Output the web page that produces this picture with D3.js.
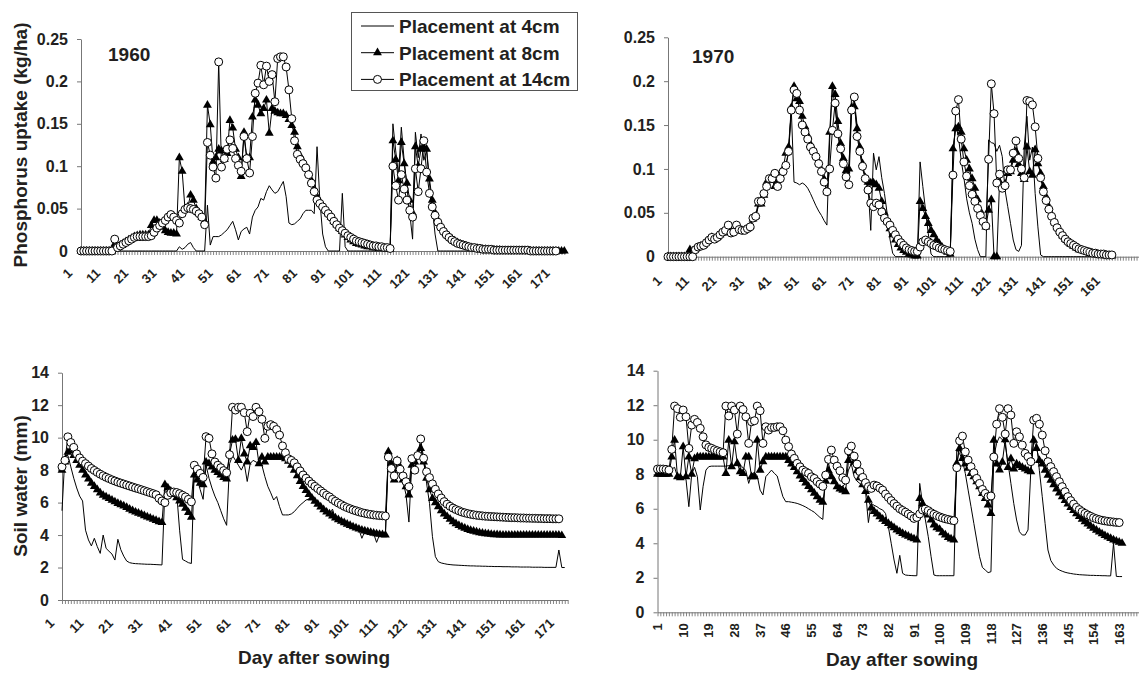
<!DOCTYPE html>
<html>
<head>
<meta charset="UTF-8">
<script src="https://cdn.jsdelivr.net/npm/d3@7"></script>
<style>
  body { margin: 0; background: #fff; }
  svg { display: block; }
</style>
</head>
<body>
<svg id="chart" width="1139" height="673"></svg>
<script>
// ---- data: one value per day after sowing ----
var seriesNames = ["Placement at 4cm", "Placement at 8cm", "Placement at 14cm"];

// 1960, phosphorus uptake (kg/ha)
var p60_4 = [
  0,0,0,0,0,0,0,0,0,0,
  0,0,0,0,0,0,0,0,0,0,
  0,0,0,0,0,0,0,0,0,0,
  0,0,0,0,0,0.005,0.002,0.004,0.008,0.01,
  0.004,0,0,0,0,0.054,0.007,0.017,0.017,0.017,
  0.019,0.022,0.025,0.03,0.035,0.025,0.013,0.023,0.026,0.028,
  0.02,0.04,0.048,0.052,0.062,0.06,0.07,0.077,0.072,0.068,
  0.07,0.076,0.082,0.064,0.033,0.031,0.032,0.035,0.038,0.044,
  0.048,0.048,0.048,0.044,0.123,0.06,0.02,0.005,0,0,
  0,0,0,0.068,0.005,0,0,0,0,0,
  0,0,0,0,0,0,0,0,0,0,
  0,0.15,0.118,0.09,0.146,0.107,0.075,0.044,0.014,0.14,
  0.11,0.138,0.107,0.118,0.08,0.052,0.02,0,0,0,
  0,0,0,0,0,0,0,0,0,0,
  0,0,0,0,0,0,0,0,0,0,
  0,0,0,0,0,0,0,0,0,0,
  0,0,0,0,0,0,0,0,0,0,
  0,0,0
];
var p60_8 = [
  0,0,0,0,0,0,0,0,0,0,
  0,0,0.008,0.005,0.007,0.009,0.011,0.013,0.015,0.017,
  0.018,0.019,0.019,0.019,0.019,0.03,0.036,0.036,0.033,0.028,
  0.024,0.022,0.021,0.021,0.02,0.11,0.094,0.05,0.052,0.066,
  0.06,0.05,0.045,0.04,0.035,0.172,0.149,0.105,0.11,0.12,
  0.118,0.108,0.115,0.154,0.145,0.12,0.11,0.088,0.14,0.11,
  0.11,0.158,0.178,0.172,0.162,0.168,0.178,0.139,0.168,0.165,
  0.163,0.162,0.162,0.16,0.155,0.148,0.14,0.123,0.112,0.105,
  0.099,0.092,0.083,0.073,0.064,0.058,0.053,0.048,0.044,0.04,
  0.035,0.031,0.027,0.023,0.019,0.016,0.013,0.011,0.009,0.008,
  0.007,0.006,0.005,0.005,0.004,0.004,0.003,0.003,0.003,0.002,
  0.002,0.13,0.108,0.083,0.128,0.103,0.08,0.06,0.045,0.123,
  0.1,0.12,0.122,0.12,0.085,0.06,0.045,0.036,0.03,0.025,
  0.02,0.017,0.014,0.012,0.01,0.008,0.007,0.006,0.005,0.004,
  0.003,0.003,0.002,0.002,0.002,0.001,0.001,0.001,0.001,0.001,
  0,0,0,0,0,0,0,0,0,0,
  0,0,0,0,0,0,0,0,0,0,
  0,0,0
];
var p60_14 = [
  0,0,0,0,0,0,0,0,0,0,
  0,0,0.014,0.004,0.006,0.008,0.01,0.012,0.014,0.016,
  0.017,0.017,0.017,0.017,0.017,0.018,0.022,0.027,0.03,0.033,
  0.036,0.04,0.043,0.04,0.036,0.033,0.044,0.049,0.051,0.05,
  0.049,0.047,0.044,0.04,0.031,0.128,0.113,0.099,0.086,0.223,
  0.099,0.109,0.12,0.131,0.121,0.109,0.101,0.094,0.135,0.109,
  0.092,0.135,0.186,0.198,0.219,0.196,0.218,0.2,0.208,0.176,
  0.227,0.229,0.229,0.217,0.19,0.156,0.13,0.114,0.108,0.103,
  0.098,0.09,0.08,0.07,0.06,0.056,0.052,0.048,0.044,0.04,
  0.035,0.031,0.027,0.024,0.021,0.018,0.016,0.014,0.012,0.011,
  0.01,0.009,0.008,0.007,0.006,0.006,0.005,0.005,0.004,0.004,
  0.003,0.1,0.077,0.06,0.09,0.073,0.06,0.048,0.04,0.097,
  0.07,0.097,0.13,0.093,0.068,0.052,0.042,0.034,0.028,0.023,
  0.019,0.016,0.013,0.011,0.009,0.008,0.007,0.006,0.005,0.004,
  0.004,0.003,0.003,0.002,0.002,0.002,0.002,0.001,0.001,0.001,
  0.001,0.001,0.001,0.001,0.001,0.001,0.001,0.001,0.001,0.001,
  0,0,0,0,0,0,0,0,0,0
];

// 1970, phosphorus uptake (kg/ha)
var p70_4 = [
  0,0,0,0,0,0,0,0,0,0,
  0.006,0.009,0.01,0.012,0.015,0.018,0.02,0.019,0.021,0.024,
  0.026,0.028,0.033,0.027,0.028,0.033,0.03,0.029,0.029,0.031,
  0.034,0.042,0.045,0.058,0.058,0.068,0.082,0.085,0.09,0.078,
  0.085,0.093,0.098,0.104,0.118,0.167,0.085,0.084,0.082,0.084,
  0.082,0.078,0.072,0.065,0.058,0.052,0.047,0.041,0.036,0.133,
  0.194,0.17,0.14,0.12,0.105,0.098,0.095,0.184,0.178,0.15,
  0.12,0.1,0.09,0.08,0.03,0.118,0.099,0.114,0.09,0.072,
  0.049,0.02,0.004,0,0,0,0,0,0,0,
  0,0,0.108,0.08,0.053,0.026,0.003,0,0,0,
  0,0,0,0,0.12,0.15,0.137,0.11,0.09,0.066,
  0.05,0.038,0.02,0.008,0,0,0,0.133,0.13,0.129,
  0.12,0.127,0.114,0.076,0.057,0.038,0.019,0.008,0.006,0.013,
  0.125,0.16,0.11,0.125,0.072,0.034,0.002,0,0,0,
  0,0,0,0,0,0,0,0,0,0,
  0,0,0,0,0,0,0,0,0,0,
  0,0,0
];
var p70_8 = [
  0,0,0,0,0,0,0,0,0.008,0.006,
  0.009,0.011,0.012,0.013,0.017,0.02,0.022,0.02,0.022,0.025,
  0.027,0.029,0.034,0.028,0.029,0.034,0.031,0.03,0.03,0.032,
  0.035,0.043,0.046,0.06,0.06,0.07,0.085,0.087,0.092,0.08,
  0.087,0.095,0.1,0.118,0.125,0.17,0.194,0.18,0.177,0.16,
  0.148,0.138,0.128,0.122,0.116,0.108,0.099,0.088,0.074,0.142,
  0.194,0.185,0.154,0.129,0.112,0.098,0.1,0.17,0.171,0.146,
  0.125,0.106,0.09,0.085,0.084,0.084,0.082,0.078,0.063,0.05,
  0.04,0.032,0.025,0.019,0.014,0.01,0.007,0.005,0.003,0.002,
  0.001,0.001,0.063,0.055,0.046,0.038,0.03,0.025,0.019,0.015,
  0.011,0.008,0.005,0.003,0.123,0.146,0.148,0.142,0.123,0.11,
  0.1,0.089,0.078,0.065,0.052,0.04,0.034,0.053,0.065,0,
  0,0.085,0.08,0.083,0.095,0.097,0.11,0.12,0.105,0.095,
  0.088,0.125,0.097,0.093,0.122,0.106,0.095,0.08,0.068,0.057,
  0.048,0.04,0.034,0.029,0.024,0.02,0.017,0.014,0.012,0.01,
  0.008,0.007,0.006,0.005,0.004,0.003,0.003,0.002,0.002,0.002,
  0.001,0.001,0.001
];
var p70_14 = [
  0,0,0,0,0,0,0,0,0,0,
  0.008,0.011,0.012,0.013,0.016,0.019,0.022,0.02,0.022,0.025,
  0.028,0.03,0.036,0.027,0.028,0.036,0.031,0.03,0.03,0.032,
  0.034,0.044,0.046,0.063,0.063,0.072,0.08,0.089,0.089,0.095,
  0.08,0.089,0.097,0.104,0.12,0.167,0.19,0.186,0.167,0.15,
  0.142,0.134,0.125,0.12,0.114,0.106,0.097,0.085,0.074,0.1,
  0.144,0.175,0.14,0.123,0.106,0.091,0.082,0.167,0.182,0.137,
  0.12,0.103,0.089,0.076,0.061,0.057,0.061,0.059,0.051,0.044,
  0.04,0.036,0.03,0.025,0.02,0.016,0.013,0.01,0.008,0.007,
  0.006,0.006,0.011,0.017,0.019,0.017,0.015,0.013,0.012,0.01,
  0.009,0.008,0.007,0.006,0.093,0.166,0.179,0.134,0.108,0.092,
  0.081,0.071,0.063,0.055,0.047,0.04,0.035,0.111,0.197,0.163,
  0.084,0.094,0.078,0.081,0.099,0.099,0.118,0.132,0.112,0.1,
  0.09,0.178,0.177,0.173,0.148,0.112,0.09,0.074,0.064,0.054,
  0.046,0.039,0.033,0.028,0.024,0.02,0.017,0.015,0.013,0.011,
  0.009,0.008,0.007,0.006,0.005,0.004,0.004,0.003,0.003,0.003,
  0.002,0.002,0.002
];

// 1960, soil water (mm)
var w60_4 = [
  5.5,8.9,8.9,8.2,7.5,6.9,6.4,6.1,4.3,3.7,
  3.33,3.8,3.29,2.87,4.0,3.18,3.0,2.83,2.46,3.74,
  3.1,2.7,2.4,2.3,2.26,2.24,2.23,2.22,2.21,2.2,
  2.2,2.19,2.18,2.17,2.16,6.8,7.0,6.9,6.8,6.6,
  4.3,2.5,2.4,2.3,2.25,8.2,7.5,6.8,6.2,8.3,
  7.5,6.9,6.4,6.0,5.5,5.0,4.6,8.4,8.9,8.6,
  8.3,8.0,8.4,7.3,8.4,8.6,8.5,8.4,8.3,7.6,
  7.0,6.6,6.16,6.37,5.75,5.24,5.24,5.24,5.3,5.44,
  5.65,5.85,6.0,6.16,6.22,6.2,6.02,5.85,5.68,5.52,
  5.38,5.25,5.6,5.02,4.92,4.82,4.73,4.64,4.56,4.48,
  4.41,4.34,3.8,4.23,4.18,4.13,4.09,3.55,4.02,3.99,
  3.98,8.8,8.0,7.5,8.3,7.7,7.3,6.5,4.8,8.5,
  8.0,9.0,9.4,8.7,7.2,5.95,3.9,2.67,2.36,2.28,
  2.24,2.2,2.18,2.16,2.15,2.14,2.13,2.12,2.11,2.1,
  2.1,2.09,2.09,2.08,2.08,2.07,2.07,2.06,2.06,2.06,
  2.05,2.05,2.05,2.04,2.04,2.04,2.03,2.03,2.03,2.03,
  2.02,2.02,2.02,2.02,2.01,2.01,2.01,2.01,2.01,3.08,
  2.0,2.0
];
var w60_8 = [
  8.0,8.5,9.1,9.2,8.9,8.6,8.3,8.0,7.7,7.45,
  7.2,7.0,6.8,6.6,6.45,6.35,6.25,6.15,6.05,5.95,
  5.87,5.8,5.7,5.6,5.5,5.42,5.35,5.28,5.2,5.12,
  5.05,4.97,4.9,4.83,4.77,7.1,6.9,6.7,6.5,6.3,
  6.1,5.9,5.65,5.4,5.1,7.7,7.4,7.2,7.1,8.5,
  8.4,8.2,8.0,7.85,7.7,7.55,7.45,9.0,9.85,9.9,
  8.6,9.95,9.0,8.5,9.5,9.4,9.7,8.4,8.8,8.5,
  8.8,8.8,8.8,8.8,8.8,8.8,8.7,8.55,8.3,8.0,
  7.65,7.3,7.0,6.75,6.5,6.28,6.08,5.9,5.73,5.57,
  5.42,5.3,5.18,5.06,4.95,4.85,4.76,4.67,4.59,4.51,
  4.44,4.37,4.31,4.26,4.21,4.16,4.12,4.08,4.05,4.02,
  4.0,9.14,8.4,7.4,8.6,8.2,7.4,6.98,6.47,8.3,
  8.5,8.9,9.34,8.5,7.5,6.8,6.26,6.0,5.75,5.5,
  5.3,5.14,4.98,4.83,4.7,4.59,4.5,4.42,4.35,4.29,
  4.24,4.19,4.15,4.12,4.09,4.07,4.05,4.03,4.02,4.01,
  4.0,4.0,4.0,4.0,4.0,4.0,4.0,4.0,4.0,4.0,
  4.0,4.0,4.0,4.0,4.0,4.0,4.0,4.0,4.0,4.0,
  3.97
];
var w60_14 = [
  8.2,8.6,10.05,9.7,9.4,9.0,8.75,8.55,8.4,8.25,
  8.1,7.98,7.86,7.75,7.65,7.56,7.48,7.4,7.33,7.26,
  7.2,7.14,7.08,7.02,6.96,6.9,6.85,6.79,6.73,6.67,
  6.61,6.55,6.48,6.26,6.1,6.0,6.45,6.6,6.65,6.62,
  6.55,6.45,6.35,6.2,6.05,8.3,8.05,7.8,7.55,10.06,
  9.96,9.0,8.5,8.3,8.15,7.97,7.84,8.95,11.87,11.7,
  11.87,11.87,11.54,10.37,11.5,11.3,11.87,11.6,11.13,9.96,
  10.7,10.8,10.7,10.5,10.16,9.49,9.07,8.7,8.6,8.45,
  8.2,7.95,7.7,7.5,7.32,7.15,7.0,6.86,6.72,6.58,
  6.45,6.35,6.2,6.08,5.97,5.87,5.77,5.69,5.62,5.55,
  5.49,5.43,5.38,5.34,5.3,5.27,5.24,5.22,5.2,5.19,
  5.17,8.8,8.1,7.64,8.57,8.05,7.64,7.29,6.98,8.7,
  8.0,8.9,9.92,8.73,7.9,7.54,7.15,6.82,6.53,6.28,
  6.06,5.9,5.77,5.66,5.57,5.49,5.42,5.37,5.32,5.28,
  5.25,5.22,5.2,5.18,5.16,5.15,5.14,5.13,5.12,5.11,
  5.1,5.09,5.08,5.07,5.07,5.06,5.05,5.05,5.04,5.04,
  5.03,5.03,5.02,5.02,5.01,5.01,5.01,5.0,5.0,5.0
];

// 1970, soil water (mm)
var w70_4 = [
  7.9,7.9,7.9,7.9,7.9,8.3,8.4,7.86,7.86,7.86,
  7.7,6.12,8.0,8.4,7.86,5.93,7.3,8.24,8.44,8.47,
  8.47,8.47,8.47,8.47,8.47,8.5,8.5,8.5,8.5,8.45,
  8.4,8.2,7.47,8.0,8.1,7.9,7.08,6.8,7.86,8.05,
  8.24,8.05,7.9,7.28,6.7,6.41,6.41,6.38,6.35,6.31,
  6.25,6.18,6.1,6.0,5.9,5.8,5.65,5.5,5.38,8.0,
  8.63,7.95,7.57,7.4,7.3,7.28,7.5,8.24,8.6,7.86,
  7.6,7.47,7.3,6.99,5.2,6.31,6.2,6.12,6.0,5.93,
  5.73,4.96,4.0,3.03,2.26,3.3,2.26,2.16,2.14,2.13,
  2.12,2.12,7.47,6.3,5.35,4.38,3.22,2.16,2.12,2.12,
  2.12,2.12,2.12,2.12,2.12,9.4,9.2,8.82,8.05,7.08,
  6.12,5.15,4.19,3.22,2.6,2.45,2.3,2.35,9.0,9.8,
  10.17,10.0,9.7,8.63,7.47,6.31,5.35,4.67,4.48,4.48,
  4.77,8.24,9.98,9.8,8.2,6.7,5.15,3.61,3.0,2.74,
  2.55,2.45,2.38,2.32,2.28,2.25,2.22,2.2,2.18,2.17,
  2.16,2.15,2.14,2.14,2.13,2.13,2.12,2.12,2.11,2.11,
  4.0,2.08,2.07,2.07
];
var w70_8 = [
  8.0,8.0,8.0,8.0,8.0,9.0,9.98,7.86,7.8,9.6,
  7.86,9.0,8.0,8.9,9.0,9.0,9.0,9.0,9.0,9.0,
  9.0,9.0,9.0,9.0,8.05,9.98,8.44,9.88,8.63,8.15,
  8.05,9.0,9.0,7.86,7.86,9.98,8.24,8.73,9.0,9.0,
  9.0,9.0,9.0,9.0,9.0,9.0,8.8,8.6,8.4,8.15,
  7.9,7.7,7.5,7.3,7.1,6.9,6.7,6.5,6.38,7.6,
  8.2,7.86,7.57,7.28,7.15,7.08,6.99,8.8,9.2,8.7,
  8.2,7.8,7.4,7.0,6.5,6.05,5.85,5.7,5.54,5.4,
  5.27,5.15,5.02,4.9,4.77,4.67,4.57,4.48,4.41,4.33,
  4.26,4.19,6.6,6.3,5.95,5.64,5.35,5.06,4.9,4.81,
  4.61,4.48,4.34,4.25,4.19,8.63,9.5,8.92,8.6,8.35,
  8.05,7.86,7.57,7.28,6.89,6.6,6.22,5.73,9.98,8.6,
  8.25,8.7,10.0,8.4,8.9,8.3,8.6,8.5,8.4,8.3,
  8.2,8.15,9.98,9.5,8.8,8.6,8.24,7.95,7.65,7.4,
  7.15,6.92,6.7,6.48,6.28,6.08,5.9,5.72,5.55,5.4,
  5.25,5.12,4.99,4.87,4.76,4.65,4.55,4.45,4.36,4.28,
  4.2,4.13,4.06,4.0
];
var w70_14 = [
  8.3,8.3,8.3,8.28,8.24,9.44,11.95,11.8,11.3,11.72,
  11.33,9.5,10.85,11.18,11.0,10.66,10.17,9.7,9.56,9.5,
  9.42,9.36,9.3,9.25,11.95,11.38,11.95,11.72,10.33,11.95,
  11.75,11.33,9.79,11.04,11.1,11.95,11.68,9.79,10.75,10.56,
  10.71,10.71,10.75,10.75,10.52,9.98,9.6,9.17,8.92,8.63,
  8.43,8.24,8.14,8.05,7.85,7.76,7.57,7.43,7.3,7.95,
  8.86,9.4,8.82,8.47,8.2,7.8,7.66,9.36,9.63,9.05,
  8.59,8.15,7.82,7.51,7.28,7.18,7.37,7.32,7.2,7.08,
  6.85,6.66,6.47,6.3,6.15,6.0,5.9,5.8,5.69,5.58,
  5.44,5.5,5.7,5.93,5.97,5.89,5.77,5.68,5.6,5.53,
  5.47,5.42,5.38,5.34,5.31,8.38,9.94,10.21,9.3,8.82,
  8.44,8.09,7.76,7.47,7.12,6.89,6.7,6.74,9.0,10.9,
  11.8,11.3,10.33,11.8,11.43,9.79,10.46,10.17,9.69,9.21,
  9.02,8.73,11.14,11.24,10.9,10.27,9.36,8.73,8.44,8.15,
  7.86,7.57,7.28,6.99,6.7,6.47,6.27,6.08,5.95,5.83,
  5.73,5.64,5.56,5.48,5.42,5.37,5.33,5.3,5.27,5.25,
  5.23,5.21,5.2
];

// tick values and labels
var uptakeTicks = [0, 0.05, 0.1, 0.15, 0.2, 0.25];
var uptakeLabels = ["0", "0.05", "0.1", "0.15", "0.2", "0.25"];
var waterTicks = [0, 2, 4, 6, 8, 10, 12, 14];
var waterLabels = ["0", "2", "4", "6", "8", "10", "12", "14"];
var dayLabels60 = [1, 11, 21, 31, 41, 51, 61, 71, 81, 91, 101, 111, 121, 131, 141, 151, 161, 171];
var dayLabels70 = [1, 11, 21, 31, 41, 51, 61, 71, 81, 91, 101, 111, 121, 131, 141, 151, 161];
var dayLabels70w = [1, 10, 19, 28, 37, 46, 55, 64, 73, 82, 91, 100, 109, 118, 127, 136, 145, 154, 163];

// ---- layout of the four panels ----
var font = "'Liberation Sans', Arial, Helvetica, sans-serif";
var axisColor = "#777";
var textColor = "#231f20";

var panels = [
  { left: 81, step: 2.81, nDays: 173, top: 39, bottom: 251, yMax: 0.25,
    yTicks: uptakeTicks, yLabels: uptakeLabels, xLabels: dayLabels60,
    labelDx: -8, labelDy: 23, vertical: false, series: [p60_4, p60_8, p60_14] },
  { left: 668, step: 2.74, nDays: 173, top: 37.3, bottom: 256.7, yMax: 0.25,
    yTicks: uptakeTicks, yLabels: uptakeLabels, xLabels: dayLabels70,
    labelDx: -5.5, labelDy: 25, vertical: false, series: [p70_4, p70_8, p70_14] },
  { left: 62, step: 2.94, nDays: 173, top: 372.7, bottom: 600, yMax: 14,
    yTicks: waterTicks, yLabels: waterLabels, xLabels: dayLabels60,
    labelDx: -7, labelDy: 24, vertical: false, series: [w60_4, w60_8, w60_14] },
  { left: 657.5, step: 2.85, nDays: 170, top: 370.7, bottom: 612.3, yMax: 14,
    yTicks: waterTicks, yLabels: waterLabels, xLabels: dayLabels70w,
    labelDx: 4.6, labelDy: 11, vertical: true, series: [w70_4, w70_8, w70_14] }
];

var svg = d3.select("#chart")
  .attr("font-family", font)
  .attr("font-weight", "bold");

// markers used in plots and legend
function triangle(g, cx, cy) {
  g.append("path")
    .attr("transform", "translate(" + cx + "," + cy + ")")
    .attr("d", d3.symbol(d3.symbolTriangle, 34))
    .attr("fill", "#000");
}

function circle(g, cx, cy) {
  g.append("circle")
    .attr("cx", cx).attr("cy", cy).attr("r", 4)
    .attr("fill", "#fff").attr("stroke", "#000").attr("stroke-width", 1);
}

function drawPanel(p) {
  var x = d3.scaleLinear().domain([1, p.nDays]).range([p.left, p.left + (p.nDays - 1) * p.step]);
  var y = d3.scaleLinear().domain([0, p.yMax]).range([p.bottom, p.top]);
  var g = svg.append("g");

  // y axis
  var gy = g.append("g")
    .attr("transform", "translate(" + p.left + ",0)")
    .call(d3.axisLeft(y).tickValues(p.yTicks).tickSize(4).tickSizeOuter(0).tickPadding(9)
      .tickFormat(function (d, i) { return p.yLabels[i]; }));
  gy.select(".domain").attr("stroke", axisColor);
  gy.selectAll(".tick line").attr("stroke", axisColor);
  gy.selectAll(".tick text")
    .attr("fill", textColor)
    .attr("font-size", 16)
    .attr("font-family", font)
    .attr("font-weight", "bold");

  // x axis: one small tick for every day
  var gx = g.append("g")
    .attr("transform", "translate(0," + p.bottom + ")")
    .call(d3.axisBottom(x).tickValues(d3.range(1, p.nDays + 1)).tickSize(4).tickSizeOuter(0).tickFormat(""));
  gx.select(".domain").attr("stroke", axisColor);
  gx.selectAll(".tick line").attr("stroke", axisColor).attr("stroke-width", 0.9);

  // rotated day labels
  g.append("g").selectAll("text")
    .data(p.xLabels)
    .join("text")
    .attr("transform", function (d) {
      if (p.vertical) {
        return "translate(" + (x(d) + p.labelDx) + "," + (p.bottom + p.labelDy) + ") rotate(-90)";
      }
      return "translate(" + (x(d) + p.labelDx) + "," + (p.bottom + p.labelDy) + ") rotate(-45)";
    })
    .attr("text-anchor", "end")
    .attr("font-size", 13)
    .attr("fill", textColor)
    .text(function (d) { return d; });

  var line = d3.line()
    .x(function (d, i) { return x(i + 1); })
    .y(function (d) { return y(d); });

  // series drawn in order: 4cm line, 8cm triangles, 14cm circles on top
  p.series.forEach(function (values, k) {
    var s = g.append("g");
    s.append("path")
      .datum(values)
      .attr("d", line)
      .attr("fill", "none")
      .attr("stroke", "#000")
      .attr("stroke-width", 1)
      .attr("stroke-linejoin", "round");
    if (k === 1) {
      values.forEach(function (v, i) { triangle(s, x(i + 1), y(v)); });
    }
    if (k === 2) {
      values.forEach(function (v, i) { circle(s, x(i + 1), y(v)); });
    }
  });
}

panels.forEach(drawPanel);

// year labels
svg.append("text").attr("x", 108).attr("y", 61).attr("font-size", 19).attr("fill", textColor).text("1960");
svg.append("text").attr("x", 692).attr("y", 63).attr("font-size", 19).attr("fill", textColor).text("1970");

// axis titles
svg.append("text")
  .attr("transform", "translate(27,145) rotate(-90)")
  .attr("text-anchor", "middle").attr("font-size", 19).attr("fill", textColor)
  .text("Phosphorus uptake (kg/ha)");
svg.append("text")
  .attr("transform", "translate(27,486) rotate(-90)")
  .attr("text-anchor", "middle").attr("font-size", 19).attr("fill", textColor)
  .text("Soil water (mm)");
svg.append("text")
  .attr("x", 314).attr("y", 664)
  .attr("text-anchor", "middle").attr("font-size", 19).attr("fill", textColor)
  .text("Day after sowing");
svg.append("text")
  .attr("x", 902).attr("y", 666)
  .attr("text-anchor", "middle").attr("font-size", 19).attr("fill", textColor)
  .text("Day after sowing");

// legend
var legend = svg.append("g");
legend.append("rect")
  .attr("x", 351.5).attr("y", 12.5).attr("width", 226).attr("height", 78)
  .attr("fill", "#fff").attr("stroke", "#555").attr("stroke-width", 1);

seriesNames.forEach(function (name, k) {
  var ly = 26 + k * 26.7;
  legend.append("line")
    .attr("x1", 361).attr("x2", 394).attr("y1", ly).attr("y2", ly)
    .attr("stroke", "#000").attr("stroke-width", 1);
  if (k === 1) triangle(legend, 377.5, ly);
  if (k === 2) circle(legend, 377.5, ly);
  legend.append("text")
    .attr("x", 399).attr("y", ly + 7)
    .attr("font-size", 19).attr("fill", textColor)
    .text(name);
});
</script>
</body>
</html>
